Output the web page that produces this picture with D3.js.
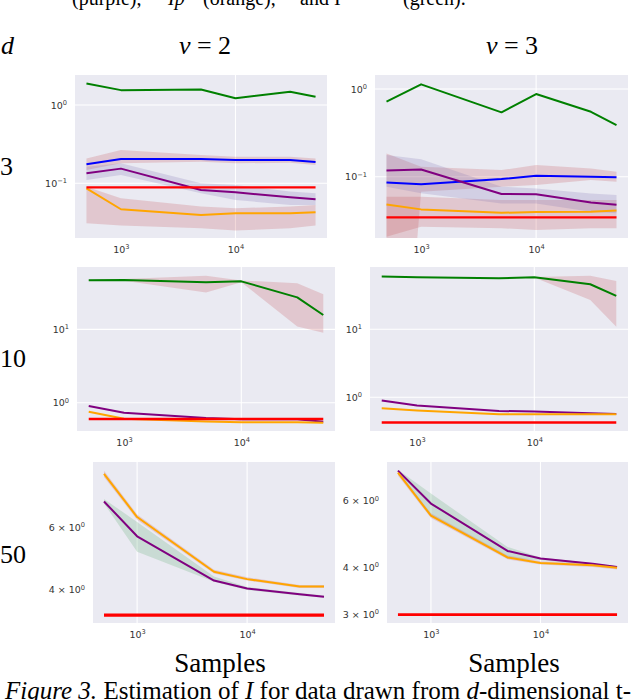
<!DOCTYPE html>
<html><head><meta charset="utf-8">
<script src="https://cdn.jsdelivr.net/npm/d3@7"></script>
<style>body{margin:0;background:#fff;} svg{display:block;}</style>
</head><body>
<svg id="c" width="640" height="700"></svg>
<script>
// ---------- data ----------
const samples = [500, 1000, 5000, 10000, 30000, 50000];
const nuLabels = ["2", "3"];
const dLabels = ["3", "10", "50"];
const xTickValues = [1e3, 1e4];
const xTickExps = ["3", "4"];

// d = 3, nu = 2
const d3nu2Green  = [1.89, 1.55, 1.58, 1.22, 1.48, 1.28];
const d3nu2Blue   = [0.175, 0.205, 0.205, 0.199, 0.199, 0.187];
const d3nu2Purple = [0.134, 0.154, 0.082, 0.0767, 0.0663, 0.0625];
const d3nu2Orange = [0.0863, 0.0466, 0.0394, 0.0414, 0.0414, 0.0426];
const d3nu2Red    = [0.0889, 0.0889, 0.0889, 0.0889, 0.0889, 0.0889];
const d3nu2OrangeBand = [[0.0308,0.0906],[0.0288,0.0644],[0.0267,0.0504],[0.0249,0.048],[0.0267,0.0504],[0.0288,0.0529]];
const d3nu2BlueBand   = [[0.148,0.208],[0.18,0.267],[0.189,0.23],[0.18,0.219],[0.183,0.219],[0.171,0.208]];
const d3nu2PurpleBand = [[0.110,0.163],[0.128,0.18],[0.0745,0.1],[0.0613,0.0953],[0.0529,0.0783],[0.0529,0.0745]];

// d = 3, nu = 3
const d3nu3Green  = [0.717, 1.13, 0.542, 0.877, 0.55, 0.388];
const d3nu3Blue   = [0.0861, 0.0818, 0.094, 0.1026, 0.1, 0.0983];
const d3nu3Purple = [0.118, 0.121, 0.0634, 0.063, 0.0509, 0.048];
const d3nu3Orange = [0.0483, 0.0424, 0.0388, 0.0395, 0.0399, 0.0413];
const d3nu3Red    = [0.0344, 0.0344, 0.0344, 0.0344, 0.0344, 0.0344];
const d3nu3PurpleBand = [[0.0769,0.177],[0.0646,0.158],[0.0494,0.0769],[0.0494,0.0736],[0.0398,0.0645],[0.0382,0.0619]];
const d3nu3BlueBand   = [[0.000001,0.1845],[0.0675,0.130],[0.0769,0.119],[0.0804,0.136],[0.0916,0.124],[0.0877,0.114]];
const d3nu3OrangeBand = [[0.0207,0.0591],[0.0269,0.0591],[0.0258,0.0542],[0.0247,0.0542],[0.0258,0.0542],[0.0258,0.0542]];

// d = 10, nu = 2
const d10nu2Green  = [46.6, 47.1, 43.8, 45.1, 27.3, 15.7];
const d10nu2Purple = [0.901, 0.731, 0.618, 0.593, 0.593, 0.551];
const d10nu2Orange = [0.754, 0.605, 0.556, 0.539, 0.539, 0.533];
const d10nu2Red    = [0.599, 0.599, 0.599, 0.599, 0.599, 0.599];
const d10nu2GreenBand = [[46,47.5],[46,48.5],[31.9,53.9],[44,46.5],[10.9,42.4],[9,30]];

// d = 10, nu = 3
const d10nu3Green  = [59.5, 58.2, 56.2, 58.2, 45.9, 30.9];
const d10nu3Purple = [0.893, 0.754, 0.63, 0.615, 0.582, 0.569];
const d10nu3Orange = [0.689, 0.637, 0.562, 0.562, 0.562, 0.562];
const d10nu3Red    = [0.424, 0.424, 0.424, 0.424, 0.424, 0.424];
const d10nu3GreenBand = [[59,60],[57.6,58.8],[55.6,56.8],[57.6,58.8],[27,61.5],[10.9,51.4]];

// d = 50, nu = 2
const d50nu2Orange = [8.47, 6.41, 4.50, 4.29, 4.09, 4.09];
const d50nu2Purple = [7.09, 5.66, 4.25, 4.04, 3.89, 3.83];
const d50nu2Red    = [3.40, 3.40, 3.40, 3.40, 3.40, 3.40];
const d50nu2PurpleBand = [[7.0,7.2],[5.12,6.21],[4.22,4.36],[4.0,4.08],[3.86,3.92],[3.8,3.86]];
const d50nu2OrangeBand = [[8.3,8.65],[6.3,6.52],[4.45,4.56],[4.25,4.34],[4.05,4.13],[4.05,4.13]];

// d = 50, nu = 3
const d50nu3Purple = [7.21, 5.90, 4.42, 4.22, 4.09, 4.01];
const d50nu3Orange = [7.12, 5.48, 4.25, 4.11, 4.05, 3.99];
const d50nu3Red    = [3.0, 3.0, 3.0, 3.0, 3.0, 3.0];
const d50nu3PurpleBand = [[7.1,7.25],[5.49,6.27],[4.22,4.53],[4.18,4.25],[4.06,4.1],[3.97,4.03]];
const d50nu3OrangeBand = [[7.0,7.2],[5.4,5.56],[4.2,4.3],[4.07,4.15],[4.01,4.09],[3.95,4.03]];

// tick labels
const yTicksRow1 = [[1, "10", "0"], [0.1, "10", "\u22121"]];
const yTicksRow2 = [[10, "10", "1"], [1, "10", "0"]];
const yTicksR3C1 = [[6, "6 \u00d7 10", "0"], [4, "4 \u00d7 10", "0"]];
const yTicksR3C2 = [[6, "6 \u00d7 10", "0"], [4, "4 \u00d7 10", "0"], [3, "3 \u00d7 10", "0"]];

// ---------- styles ----------
const lineColor = {green:"#008000", blue:"#0000ff", purple:"#800080", orange:"#ffa500", red:"#ff0000"};
const bandColor = {pink:"#c44e52", lavender:"#8172b2", mint:"#55a868"};
const serif = "'Liberation Serif', 'DejaVu Serif', serif";
const sans = "'DejaVu Sans', sans-serif";

const panels = [
  {box:[75,75,327,238], yDomain:[0.02,2.42], yTicks:yTicksRow1, yGrid:true, xGrid:[1e4],
   lines:{green:d3nu2Green, blue:d3nu2Blue, purple:d3nu2Purple, orange:d3nu2Orange, red:d3nu2Red},
   bands:[["pink",d3nu2OrangeBand],["pink",d3nu2BlueBand],["lavender",d3nu2PurpleBand]], redW:2.2},
  {box:[375,75,628,238], yDomain:[0.02,1.445], yTicks:yTicksRow1, yGrid:true, xGrid:[1e4],
   lines:{green:d3nu3Green, blue:d3nu3Blue, purple:d3nu3Purple, orange:d3nu3Orange, red:d3nu3Red},
   bands:[["pink",d3nu3OrangeBand],["pink",d3nu3BlueBand],["lavender",d3nu3PurpleBand]], redW:2.2},
  {box:[77,267,335,431], yDomain:[0.411,70.8], yTicks:yTicksRow2, yGrid:true, xGrid:[1e4],
   lines:{green:d10nu2Green, purple:d10nu2Purple, orange:d10nu2Orange, red:d10nu2Red},
   bands:[["pink",d10nu2GreenBand]], redW:2.5},
  {box:[370,267,628,431], yDomain:[0.319,82.4], yTicks:yTicksRow2, yGrid:true, xGrid:[1e4],
   lines:{green:d10nu3Green, purple:d10nu3Purple, orange:d10nu3Orange, red:d10nu3Red},
   bands:[["pink",d10nu3GreenBand]], redW:2.5},
  {box:[93,462,335,623], yDomain:[3.23,9.15], yTicks:yTicksR3C1, yGrid:false, xGrid:[1e3,1e4],
   lines:{purple:d50nu2Purple, orange:d50nu2Orange, red:d50nu2Red},
   bands:[["mint",d50nu2PurpleBand],["pink",d50nu2OrangeBand]], redW:3.2},
  {box:[387,462,628,623], yDomain:[2.85,7.6], yTicks:yTicksR3C2, yGrid:false, xGrid:[1e3,1e4],
   lines:{purple:d50nu3Purple, orange:d50nu3Orange, red:d50nu3Red},
   bands:[["mint",d50nu3PurpleBand],["pink",d50nu3OrangeBand]], redW:2.6}
];
const drawOrder = ["green","blue","purple","orange","red"];
const xDomain = [samples[0] / Math.pow(10, 0.1), samples[samples.length-1] * Math.pow(10, 0.1)];

const svg = d3.select("#c");
svg.append("rect").attr("width",640).attr("height",700).attr("fill","#fff");

function supLabel(sel, base, exp) {
  sel.text(null);
  sel.append("tspan").text(base);
  sel.append("tspan").attr("dy","-0.55em").attr("font-size","70%").text(exp);
}

panels.forEach((p, i) => {
  const [x0,y0,x1,y1] = p.box;
  const x = d3.scaleLog().domain(xDomain).range([x0,x1]);
  const y = d3.scaleLog().domain(p.yDomain).range([y1,y0]);
  const g = svg.append("g");
  g.append("rect").attr("x",x0).attr("y",y0).attr("width",x1-x0).attr("height",y1-y0).attr("fill","#eaeaf2");
  const clipId = "clip"+i;
  svg.append("clipPath").attr("id",clipId).append("rect")
    .attr("x",x0).attr("y",y0).attr("width",x1-x0).attr("height",y1-y0);
  if (p.yGrid) {
    g.selectAll(".yg").data(p.yTicks).join("line")
      .attr("x1",x0).attr("x2",x1).attr("y1",d=>y(d[0])).attr("y2",d=>y(d[0]))
      .attr("stroke","#fff").attr("stroke-width",1.1);
  }
  g.selectAll(".xg").data(p.xGrid).join("line")
    .attr("x1",d=>x(d)).attr("x2",d=>x(d)).attr("y1",y0).attr("y2",y1)
    .attr("stroke","#fff").attr("stroke-width",1.1);
  const inner = g.append("g").attr("clip-path",`url(#${clipId})`);
  const area = d3.area().x((d,j)=>x(samples[j])).y0(d=>y(d[0])).y1(d=>y(d[1]));
  p.bands.forEach(([c, data]) => {
    inner.append("path").attr("d",area(data)).attr("fill",bandColor[c]).attr("fill-opacity",0.22);
  });
  const line = d3.line().x((d,j)=>x(samples[j])).y(d=>y(d));
  drawOrder.forEach(k => {
    if (!p.lines[k]) return;
    inner.append("path").attr("d",line(p.lines[k])).attr("fill","none")
      .attr("stroke",lineColor[k]).attr("stroke-width", k==="red" ? p.redW : 2)
      .attr("stroke-linejoin","round");
  });
  const ax = g.append("g").attr("transform",`translate(0,${y1})`)
    .call(d3.axisBottom(x).tickValues(xTickValues).tickSize(0).tickPadding(8).tickFormat(""));
  ax.select(".domain").remove();
  ax.selectAll("text").attr("font-family",sans).attr("font-size",9.5).attr("fill","#333")
    .each(function(d,j){ supLabel(d3.select(this), "10", xTickExps[j]); });
  const ay = g.append("g").attr("transform",`translate(${x0},0)`)
    .call(d3.axisLeft(y).tickValues(p.yTicks.map(t=>t[0])).tickSize(0).tickPadding(8).tickFormat(""));
  ay.select(".domain").remove();
  ay.selectAll("text").attr("font-family",sans).attr("font-size",9.5).attr("fill","#333")
    .each(function(d,j){ supLabel(d3.select(this), p.yTicks[j][1], p.yTicks[j][2]); });
});

// headers
const big = 26;
svg.append("text").attr("x",1).attr("y",54).attr("font-family",serif).attr("font-size",big)
  .attr("font-style","italic").text("d");
[205, 512].forEach((cx, i) => {
  const t = svg.append("text").attr("x",cx).attr("y",54).attr("text-anchor","middle")
    .attr("font-family",serif).attr("font-size",big);
  t.append("tspan").attr("font-style","italic").text("\u03bd");
  t.append("tspan").text(" = " + nuLabels[i]);
});
[175, 367, 563].forEach((by, i) => {
  svg.append("text").attr("x",0).attr("y",by).attr("font-family",serif).attr("font-size",big).text(dLabels[i]);
});
[220, 514].forEach(cx => {
  svg.append("text").attr("x",cx).attr("y",672).attr("text-anchor","middle")
    .attr("font-family",serif).attr("font-size",27).text("Samples");
});

// caption fragments, clipped by the picture edges as in the reference
[[72,"(purple),"],[168,"Ip"],[203,"(orange),"],[300,"and I"],[403,"(green)."]].forEach(([xx,s]) => {
  svg.append("text").attr("x",xx).attr("y",5).attr("font-family",serif).attr("font-size",20)
    .attr("font-style", s==="Ip" ? "italic" : "normal").text(s);
});
const cap = svg.append("text").attr("x",5).attr("y",699).attr("font-family",serif).attr("font-size",25);
cap.append("tspan").attr("font-style","italic").text("Figure 3.");
cap.append("tspan").text(" Estimation of ");
cap.append("tspan").attr("font-style","italic").text("I");
cap.append("tspan").text(" for data drawn from ");
cap.append("tspan").attr("font-style","italic").text("d");
cap.append("tspan").text("-dimensional t-");
</script>
</body></html>
